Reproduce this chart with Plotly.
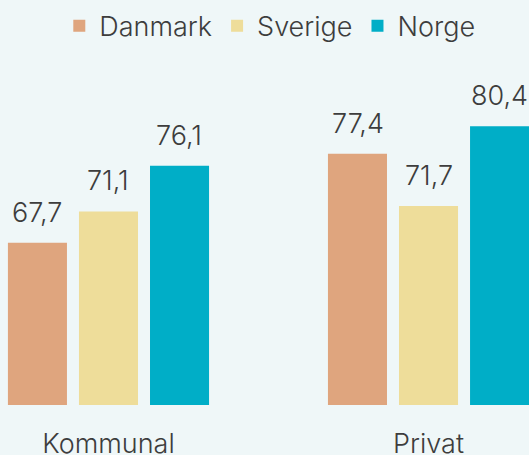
import plotly.graph_objects as go

categories = ["Kommunal", "Privat"]
series_names = ["Danmark", "Sverige", "Norge"]
danmark = [67.7, 77.4]
sverige = [71.1, 71.7]
norge = [76.1, 80.4]
colors = ["#DFA57E", "#EEDD9A", "#00AEC7"]

values = [danmark, sverige, norge]
FONT = "Inter"
TXT = "#3d3d3d"

fig = go.Figure()
for name, vals, col in zip(series_names, values, colors):
    fig.add_trace(go.Bar(
        name=name, x=categories, y=vals, marker=dict(color=col, line=dict(width=0)),
        hoverinfo="skip",
    ))

annotations = []
for i, vals in enumerate(values):
    for cat, v in zip(categories, vals):
        annotations.append(dict(
            x=cat, y=v, xref="x", yref="y", text=f"{v:.1f}".replace(".", ","),
            showarrow=False, yanchor="bottom", yshift=12, xshift=(i - 1) * 71,
            font=dict(family=FONT, size=27, color=TXT, weight=300),
        ))

fig.update_layout(
    width=529, height=455,
    margin=dict(l=0, r=0, t=84, b=50, autoexpand=False),
    paper_bgcolor="#EFF7F8", plot_bgcolor="#EFF7F8",
    barmode="group", bargap=0.334, bargroupgap=0.169,
    separators=",.",
    showlegend=True,
    legend=dict(orientation="h", x=0.51, xanchor="center", y=1.18, yanchor="middle",
                font=dict(family=FONT, size=27, color=TXT, weight=300),
                itemwidth=30, bgcolor="rgba(0,0,0,0)"),
    annotations=annotations,
    font=dict(family=FONT, color=TXT),
)
fig.update_xaxes(range=[-0.339, 1.314], showgrid=False, showline=False, zeroline=False,
                 ticks="", ticklabelstandoff=20, automargin=False,
                 tickfont=dict(family=FONT, size=27, color=TXT, weight=300))
fig.update_yaxes(range=[50, 85], visible=False, showgrid=False, zeroline=False, automargin=False)

fig.write_html("out.html")
